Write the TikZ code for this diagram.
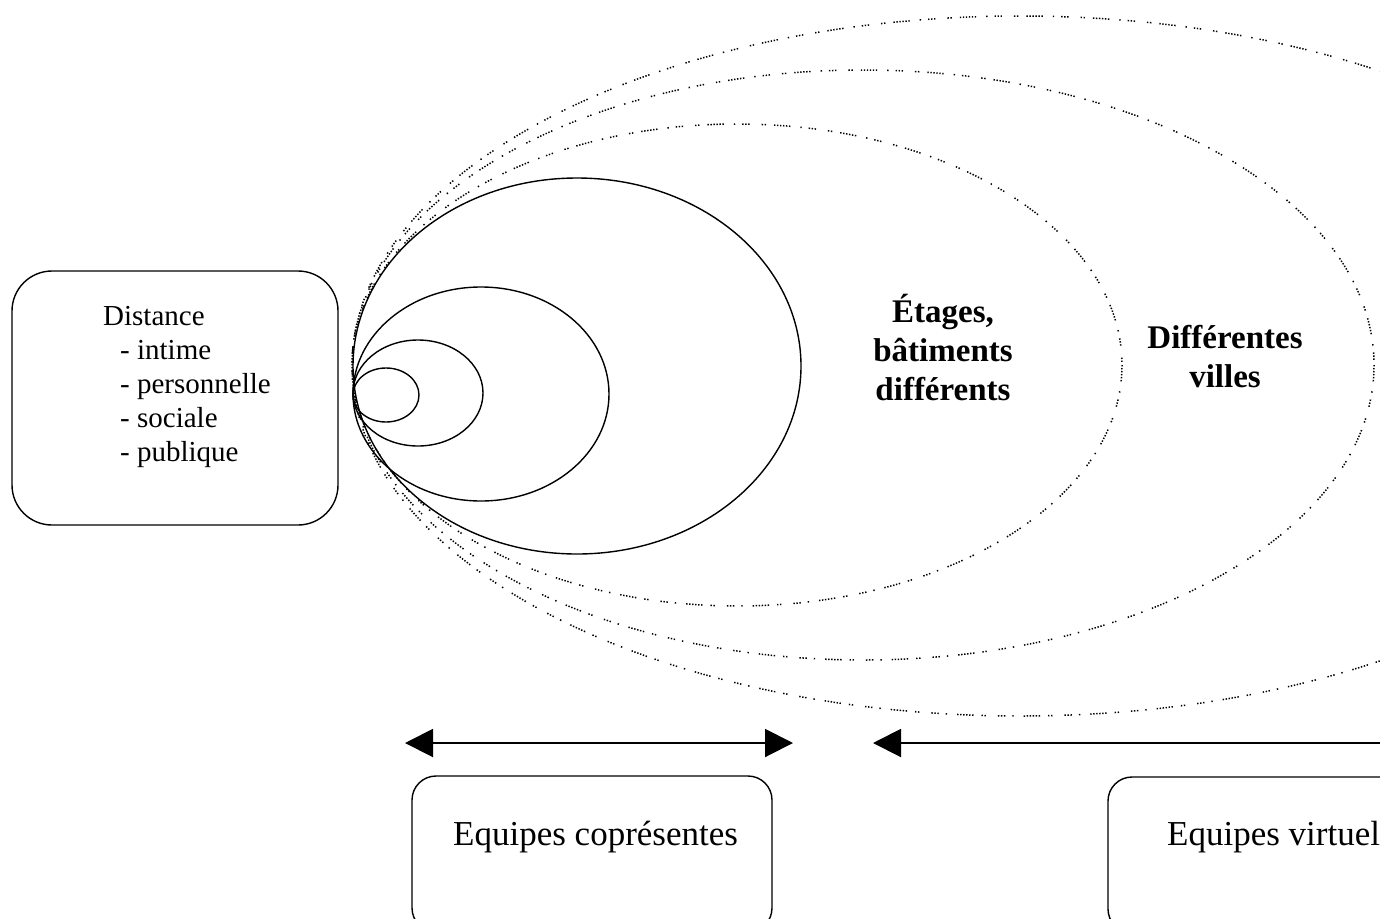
\documentclass[tikz,border=0pt]{standalone}
\usepackage{fontspec}
\setmainfont{Liberation Serif}
\usetikzlibrary{arrows.meta}
\begin{document}
\begin{tikzpicture}[x=1pt,y=-1pt,
  ring/.style={line width=1.4pt},
  farring/.style={line width=1.5pt,
    dash pattern=on 1.4pt off 1.6pt on 1.4pt off 1.6pt on 1.4pt off 1.6pt on 1.4pt off 1.6pt
      on 1.4pt off 1.6pt on 1.4pt off 10pt on 1.4pt off 7pt on 1.4pt off 1.6pt on 1.4pt off 1.6pt
      on 1.4pt off 12pt on 1.4pt off 1.6pt on 1.4pt off 8pt},
  roundbox/.style={draw, line width=1.4pt, inner sep=0pt},
  boxtext/.style={inner sep=0pt, anchor=base west},
  zonelabel/.style={inner sep=0pt, anchor=base, align=center,
    font=\bfseries\fontsize{33}{39}\selectfont},
  span/.style={line width=2pt, {Triangle[length=28pt,width=28pt]}-{Triangle[length=28pt,width=28pt]}},
  spanleft/.style={line width=2pt, {Triangle[length=28pt,width=28pt]}-},
]
\useasboundingbox (0,0) rectangle (1380,918);
\clip (0,0) rectangle (1380,918);

% nested distance zones (solid)
\draw[ring] (386,395) ellipse [x radius=33, y radius=27];
\draw[ring] (418,393) ellipse [x radius=65, y radius=53];
\draw[ring] (481,394) ellipse [x radius=128, y radius=107];
\draw[ring] (577,366) ellipse [x radius=224, y radius=188];

% remote zones (dotted)
\draw[farring] (737,365) ellipse [x radius=385, y radius=241];
\draw[farring] (863,365) ellipse [x radius=511, y radius=295];
\draw[farring] (1020,366) ellipse [x radius=668, y radius=350];

% left box: kinds of distance (base anchor sits on the last line)
\node[roundbox, rounded corners=40pt, minimum width=326pt, minimum height=254pt] (distbox) at (175,398) {};
\node[boxtext, align=left, font=\fontsize{29}{34}\selectfont] (disttext) at (103,461)
  {Distance\\ \hspace*{17pt}- intime\\ \hspace*{17pt}- personnelle\\ \hspace*{17pt}- sociale\\ \hspace*{17pt}- publique};

% zone labels
\node[zonelabel] (etages) at (943,400) {Étages,\\bâtiments\\différents};
\node[zonelabel] (villes) at (1225,387) {Différentes\\villes};

% ranges
\coordinate (coL) at (405,743);
\coordinate (coR) at (793,743);
\draw[span] (coL) -- (coR);
\coordinate (viL) at (873,743);
\coordinate (viR) at (1420,743);
\draw[spanleft] (viL) -- (viR);

% team boxes
\node[roundbox, rounded corners=24pt, minimum width=360pt, minimum height=156pt] (copbox) at (592,854) {};
\node[boxtext, font=\fontsize{35}{40}\selectfont] (coptext) at (453,845) {Equipes coprésentes};
\node[roundbox, rounded corners=24pt, minimum width=360pt, minimum height=156pt] (virbox) at (1288,855) {};
\node[boxtext, font=\fontsize{35}{40}\selectfont] (virtext) at (1167,845) {Equipes virtuelles};
\end{tikzpicture}
\end{document}
